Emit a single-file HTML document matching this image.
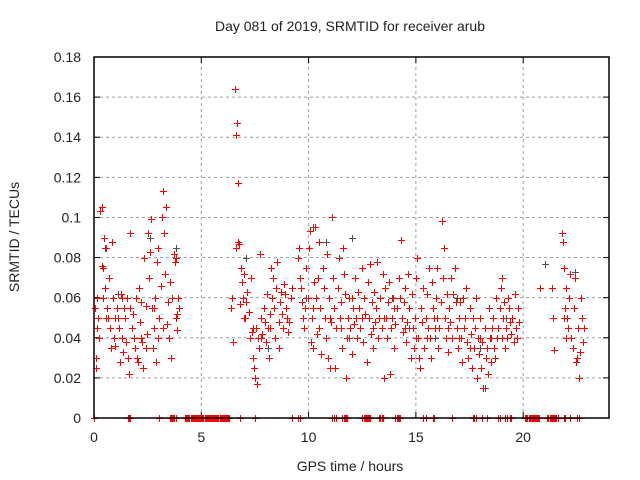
<!DOCTYPE html>
<html><head><meta charset="utf-8"><style>
html,body{margin:0;padding:0;background:#fff;width:640px;height:480px;overflow:hidden}
svg{display:block;font-family:"Liberation Sans",sans-serif}
</style></head><body>
<svg id="chart" width="640" height="480">
<text x="350" y="31" font-size="14" text-anchor="middle" fill="#222">Day 081 of 2019, SRMTID for receiver arub</text>
<text x="350" y="471" font-size="14" text-anchor="middle" fill="#222">GPS time / hours</text>
<text transform="translate(19,237) rotate(-90)" font-size="14" text-anchor="middle" fill="#222">SRMTID / TECUs</text>
<g id="grid"></g>
<g id="ticks"></g>
<g id="marks" shape-rendering="crispEdges"></g>
<rect x="94" y="57" width="515" height="361" fill="none" stroke="#000" stroke-width="1.5"/>
</svg>
<script>
const xTicks=[0,5,10,15,20];
const yTicks=[0,0.02,0.04,0.06,0.08,0.1,0.12,0.14,0.16,0.18];
const yTickLabels=["0","0.02","0.04","0.06","0.08","0.1","0.12","0.14","0.16","0.18"];
const redTimes=[0.05,0.08,0.1,0.12,0.15,0.2,0.25,0.3,0.35,0.38,0.42,0.45,0.5,0.55,0.6,0.65,0.7,0.75,0.8,0.85,0.9,0.95,1.0,1.05,1.1,1.15,1.2,1.25,1.3,1.35,1.4,1.45,1.5,1.55,1.6,1.65,1.7,1.75,1.8,1.85,1.9,1.95,2.0,2.05,2.1,2.15,2.2,2.25,2.3,2.35,2.4,2.45,2.5,2.55,2.6,2.65,2.7,2.75,2.8,2.85,2.9,2.95,3.0,3.05,3.1,3.15,3.2,3.25,3.3,3.35,3.4,3.45,3.5,3.55,3.6,3.65,3.75,3.78,3.8,3.82,3.85,3.88,3.9,3.95,0.55,1.0,1.7,2.2,2.8,3.0,0.4,1.3,2.4,3.2,
6.4,6.45,6.5,6.55,6.6,6.65,6.7,6.7,6.75,6.8,6.85,6.9,6.95,7.0,7.05,7.1,7.15,7.2,7.25,7.3,7.35,7.4,7.45,7.5,7.55,7.6,7.65,7.7,7.75,7.8,7.85,7.9,7.95,8.0,8.05,8.1,8.15,8.2,8.25,8.3,8.35,8.4,8.45,8.5,8.55,8.6,8.65,8.7,8.75,8.8,8.85,8.9,8.95,9.0,9.05,9.1,9.2,9.25,6.6,7.0,7.4,7.8,8.2,8.6,
9.5,9.55,9.6,9.65,9.7,9.75,9.8,9.85,9.9,9.95,10.0,10.05,10.1,10.15,10.2,10.25,10.3,10.35,10.4,10.45,10.5,10.55,10.6,10.65,10.7,10.75,10.8,10.85,10.9,10.95,11.0,11.05,11.1,11.15,11.2,11.25,11.3,11.35,11.4,11.45,11.5,11.55,11.6,11.65,11.7,11.75,11.8,11.85,11.9,11.95,12.0,12.05,12.1,12.15,12.2,12.25,12.3,12.35,12.4,12.5,12.55,12.6,12.65,12.7,12.75,12.8,12.85,12.9,12.95,13.0,13.05,13.1,13.15,13.2,13.25,13.3,13.35,13.4,13.45,13.5,13.55,13.6,13.65,13.7,13.75,13.8,13.85,13.9,13.95,14.0,14.05,14.1,14.2,14.25,14.3,14.35,14.4,14.45,14.5,14.55,14.6,14.65,14.7,14.75,14.8,14.85,14.9,14.95,15.0,15.05,15.1,15.15,15.2,15.25,15.3,15.35,15.4,15.45,15.5,15.55,15.6,15.65,15.7,15.75,15.8,15.85,15.9,15.95,16.0,16.05,16.1,16.15,16.2,16.25,16.3,16.35,16.4,16.45,16.5,16.55,16.6,16.65,16.7,16.75,16.8,16.85,16.9,16.95,17.0,17.05,17.1,17.15,17.2,17.25,17.3,17.35,17.4,17.45,17.5,17.55,17.6,17.65,17.7,17.75,17.8,17.85,17.9,17.95,18.0,18.05,18.1,18.15,18.2,18.25,18.3,18.35,18.4,18.45,18.5,18.55,18.6,18.65,18.7,18.75,18.8,18.85,18.9,18.95,19.0,19.05,19.1,19.15,19.2,19.25,19.3,19.35,19.4,19.45,19.5,19.55,19.6,19.65,19.7,19.75,19.8,
10.2,11.0,12.0,13.0,14.0,15.0,16.0,17.0,18.0,19.0,18.5,17.5,15.5,13.5,11.5,10.5,12.5,14.5,16.5,
21.35,21.4,21.45,21.8,21.85,21.9,21.95,22.0,22.05,22.1,22.15,22.2,22.25,22.3,22.35,22.4,22.45,22.5,22.55,22.6,22.65,22.7,22.75,22.8,22.85,20.8,21.9,22.0];
const redValues=[0.055,0.03,0.025,0.045,0.06,0.05,0.04,0.103,0.105,0.076,0.075,0.09,0.065,0.085,0.055,0.05,0.07,0.045,0.035,0.088,0.06,0.04,0.036,0.055,0.05,0.045,0.028,0.062,0.04,0.033,0.055,0.05,0.038,0.06,0.03,0.022,0.092,0.045,0.052,0.04,0.035,0.06,0.03,0.028,0.065,0.048,0.058,0.038,0.025,0.08,0.056,0.042,0.092,0.07,0.083,0.099,0.055,0.035,0.045,0.06,0.028,0.078,0.085,0.05,0.066,0.1,0.113,0.092,0.072,0.105,0.047,0.058,0.04,0.068,0.03,0.06,0.082,0.078,0.08,0.05,0.052,0.044,0.06,0.055,0.05,0.05,0.055,0.04,0.055,0.04,0.06,0.06,0.035,0.045,
0.055,0.06,0.038,0.164,0.141,0.147,0.117,0.088,0.087,0.057,0.075,0.068,0.06,0.072,0.05,0.058,0.063,0.053,0.04,0.07,0.043,0.03,0.025,0.02,0.045,0.017,0.04,0.035,0.082,0.05,0.042,0.055,0.048,0.038,0.062,0.045,0.03,0.052,0.075,0.06,0.07,0.055,0.04,0.065,0.078,0.048,0.058,0.063,0.052,0.045,0.067,0.062,0.055,0.05,0.043,0.048,0.06,0.065,0.085,0.05,0.045,0.04,0.045,0.035,
0.08,0.085,0.07,0.065,0.058,0.05,0.045,0.055,0.075,0.06,0.085,0.093,0.038,0.05,0.035,0.068,0.095,0.06,0.042,0.07,0.088,0.055,0.032,0.075,0.065,0.05,0.04,0.082,0.03,0.06,0.025,0.048,0.1,0.07,0.055,0.025,0.045,0.065,0.08,0.05,0.058,0.035,0.085,0.072,0.062,0.02,0.04,0.05,0.06,0.045,0.032,0.055,0.047,0.07,0.05,0.04,0.063,0.055,0.045,0.075,0.038,0.06,0.052,0.028,0.068,0.05,0.077,0.042,0.058,0.035,0.063,0.048,0.055,0.078,0.04,0.05,0.06,0.045,0.072,0.02,0.065,0.05,0.04,0.058,0.068,0.022,0.045,0.05,0.06,0.035,0.047,0.055,0.07,0.06,0.089,0.05,0.043,0.058,0.065,0.038,0.048,0.072,0.055,0.03,0.062,0.045,0.035,0.05,0.07,0.08,0.04,0.03,0.025,0.055,0.048,0.065,0.035,0.05,0.062,0.045,0.075,0.04,0.03,0.068,0.055,0.05,0.045,0.06,0.075,0.035,0.045,0.058,0.098,0.07,0.085,0.05,0.04,0.062,0.033,0.055,0.048,0.07,0.04,0.062,0.075,0.058,0.045,0.035,0.05,0.058,0.04,0.028,0.06,0.045,0.05,0.065,0.038,0.03,0.055,0.042,0.025,0.05,0.035,0.045,0.06,0.02,0.04,0.032,0.05,0.025,0.038,0.015,0.045,0.03,0.035,0.022,0.055,0.04,0.028,0.045,0.05,0.035,0.03,0.06,0.04,0.045,0.055,0.065,0.07,0.05,0.058,0.035,0.045,0.04,0.06,0.055,0.048,0.042,0.05,0.038,0.062,0.045,0.04,0.055,0.048,
0.055,0.05,0.06,0.045,0.055,0.04,0.05,0.04,0.04,0.04,0.04,0.035,0.04,0.05,0.045,0.045,0.05,0.045,0.045,
0.065,0.05,0.034,0.092,0.088,0.075,0.055,0.065,0.05,0.045,0.06,0.072,0.04,0.035,0.055,0.07,0.028,0.03,0.045,0.02,0.033,0.06,0.05,0.038,0.045,0.065,0.05,0.04];
const grayTimes=[0.5,1.1,2.6,3.8,7.1,9.9,10.2,10.8,12.0,13.9,14.7,16.9,18.0,18.2,19.2,21.0,22.4,8.1,11.9,15.9];
const grayValues=[0.085,0.062,0.09,0.085,0.08,0.06,0.095,0.088,0.09,0.06,0.045,0.06,0.035,0.015,0.05,0.077,0.073,0.035,0.04,0.04];
const zeroTimes=[0.0,1.6,1.63,1.66,1.7,3.05,3.55,3.6,3.65,3.7,3.75,3.8,
4.25,4.3,4.35,4.4,4.45,4.5,4.55,4.6,4.65,4.7,4.75,4.8,4.85,4.9,4.95,5.0,5.05,5.1,5.15,5.2,5.25,5.3,5.35,5.4,5.45,5.5,5.55,5.6,5.65,5.7,5.75,5.8,5.85,5.9,5.95,6.0,6.05,6.1,6.15,6.2,6.25,6.3,
6.8,7.5,9.25,9.53,9.58,11.1,11.2,11.3,11.58,11.63,11.68,11.73,11.8,
12.51,12.56,12.61,12.66,12.71,12.76,12.81,12.88,13.3,13.35,13.4,13.45,13.49,14.05,14.1,14.15,14.2,14.24,
15.33,15.47,15.8,15.85,16.68,17.68,17.73,17.78,17.82,18.08,18.31,18.85,18.9,19.15,19.24,19.38,19.43,
20.1,20.15,20.2,20.25,20.3,20.35,20.4,20.45,20.5,20.55,20.6,20.65,20.7,20.76,
21.13,21.18,21.23,21.28,21.33,21.38,21.43,21.48,21.53,21.6,21.88,21.93,22.2,22.5,22.6];

const X0=94,X1=609,Y0=418,Y1=57;
const xs=t=>X0+(t/24)*(X1-X0);
const ys=v=>Y0-(v/0.18)*(Y0-Y1);
const NS="http://www.w3.org/2000/svg";
const grid=document.getElementById('grid'),ticks=document.getElementById('ticks'),marks=document.getElementById('marks');
function mk(tag,attrs,parent){const e=document.createElementNS(NS,tag);for(const k in attrs)e.setAttribute(k,attrs[k]);parent.appendChild(e);return e;}
xTicks.forEach(t=>{const x=xs(t);
 if(t>0){const g=mk('line',{x1:x,x2:x,y1:Y0,y2:Y1,stroke:'#a0a0a0','stroke-dasharray':'3,3'},grid);
 
 }
 mk('line',{x1:x,x2:x,y1:Y0,y2:Y0-6,stroke:'#000'},ticks);mk('line',{x1:x,x2:x,y1:Y1,y2:Y1+6,stroke:'#000'},ticks);
 const l=mk('text',{x:x,y:442,'font-size':14,'text-anchor':'middle',fill:'#222'},ticks);l.textContent=t;
 
 });
yTicks.forEach((v,i)=>{const y=ys(v);
 if(i>0&&i<yTicks.length-1){const g=mk('line',{x1:X0,x2:X1,y1:y,y2:y,stroke:'#a0a0a0','stroke-dasharray':'3,3'},grid);
 
 }
 mk('line',{x1:X0,x2:X0+6,y1:y,y2:y,stroke:'#000'},ticks);mk('line',{x1:X1,x2:X1-6,y1:y,y2:y,stroke:'#000'},ticks);
 const l=mk('text',{x:81,y:y+5,'font-size':14,'text-anchor':'end',fill:'#222'},ticks);l.textContent=yTickLabels[i];
 
 });
function plus(t,v,c,name){const x=Math.round(xs(t))+0.5,y=Math.round(ys(v))+0.5;
 const p=mk('path',{d:`M${x-3.5},${y}h7M${x},${y-3.5}v7`,stroke:c,'stroke-width':1,fill:'none'},marks);
 
 }
grayTimes.forEach((t,i)=>plus(t,grayValues[i],'#505050','gray-point'));
redTimes.forEach((t,i)=>plus(t,redValues[i],'#ff0000','red-point'));
zeroTimes.forEach(t=>plus(t,0,'#ff0000','zero-point'));
</script>
</body></html>
